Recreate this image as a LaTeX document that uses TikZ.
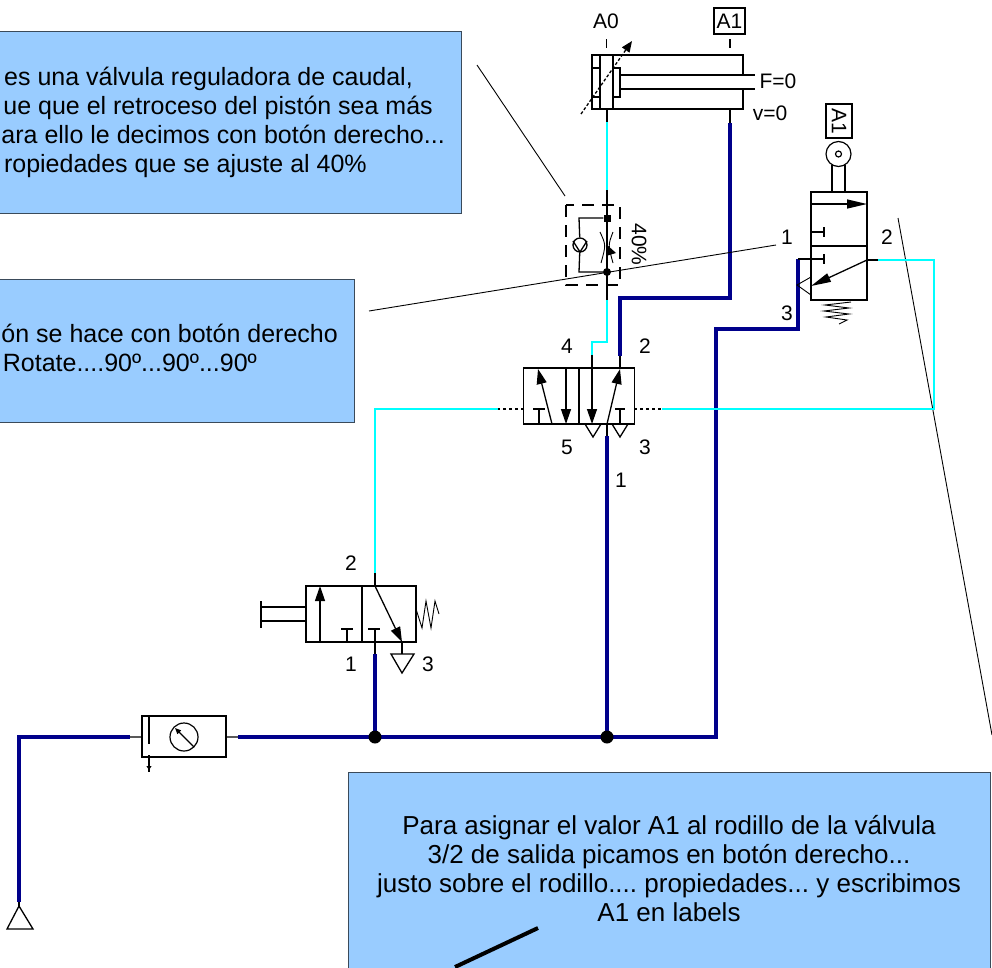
\documentclass[tikz,border=0pt]{standalone}
\usepackage{fontspec}
\setmainfont{Liberation Sans}
\usetikzlibrary{shapes.geometric, arrows.meta, positioning}
\definecolor{notafill}{HTML}{99CCFF}
\definecolor{notaline}{HTML}{3A4A5A}
\definecolor{alta}{HTML}{00008B}
\definecolor{piloto}{HTML}{00FFFF}
\tikzstyle{nota} = [rectangle, draw = notaline, fill = notafill, line width = 1pt, inner sep = 0pt]
\tikzstyle{notatext} = [inner sep = 0pt, anchor = east, text height = 18pt, text depth = 5pt, font = \fontsize{25}{29}\selectfont\frenchspacing]
\tikzstyle{etiqueta} = [inner sep = 0pt, font = \fontsize{21}{24}\selectfont]
\tikzstyle{cuerpo} = [rectangle, draw = black, fill = white, line width = 1.3pt, inner sep = 0pt]
\tikzstyle{simbolo} = [line width = 1.3pt, draw = black]
\tikzstyle{flecha} = [simbolo, -{Triangle[length = 15pt, width = 10pt]}]
\tikzstyle{linea} = [line width = 0.9pt, draw = black]
\tikzstyle{presion} = [line width = 4.5pt, draw = alta]
\tikzstyle{senal} = [line width = 1.2pt, draw = piloto]
\tikzstyle{union} = [circle, fill = black, inner sep = 0pt, minimum size = 13pt]

\begin{document}
\begin{tikzpicture}[x = 1pt, y = -1pt]
\useasboundingbox (0,0) rectangle (992,967);

\node (nota1) [nota, minimum width = 481, minimum height = 182] at (221,122) {};
\node (nota2) [nota, minimum width = 374, minimum height = 143] at (167,350.5) {};
\node (nota3) [nota, minimum width = 642, minimum height = 220] at (669,882) {};
\node (texto1a) [notatext] at (413,79) {es una válvula reguladora de caudal,};
\node (texto1b) [notatext] at (433,108) {ue que el retroceso del pistón sea más};
\node (texto1c) [notatext] at (445,137) {ara ello le decimos con botón derecho...};
\node (texto1d) [notatext] at (367,166) {ropiedades que se ajuste al 40\%};
\node (texto2a) [notatext] at (338,336) {ón se hace con botón derecho};
\node (texto2b) [notatext] at (257,365) {Rotate....90º...90º...90º};
\node (texto3) [inner sep = 0pt, align = center, font = \fontsize{26}{29}\selectfont\frenchspacing] at (669,869) {Para asignar el valor A1 al rodillo de la válvula\\3/2 de salida picamos en botón derecho...\\justo sobre el rodillo.... propiedades... y escribimos\\A1 en labels};

\coordinate (l1a) at (477,65);
\coordinate (l1b) at (565,196);
\coordinate (l2a) at (369,311);
\coordinate (l2b) at (776,245);
\coordinate (l3a) at (898,218);
\coordinate (l3b) at (992,735);
\coordinate (l4a) at (538,928);
\coordinate (l4b) at (455,967);
\draw[linea] (l1a) -- (l1b);
\draw[linea] (l3a) -- (l3b);
\draw[line width = 4pt] (l4a) -- (l4b);

% tuberias
\coordinate (escape) at (19,902);
\coordinate (codo) at (19,737);
\coordinate (unidadin) at (130,737);
\coordinate (unidadout) at (238,737);
\coordinate (j1) at (375,737);
\coordinate (j2) at (607,737);
\coordinate (esq1) at (716,737);
\coordinate (esq2) at (716,329);
\coordinate (esq3) at (798,329);
\coordinate (fin3) at (798,259);
\draw[presion] (escape) -- (codo) -- (unidadin);
\draw[presion] (unidadout) -- (esq1) -- (esq2) -- (esq3) -- (fin3);
\draw[presion] (j1) -- (375,654);
\draw[presion] (j2) -- (607,436);
\draw[presion] (730,123) -- (730,298) -- (620,298) -- (620,356);
\draw[senal] (607,122) -- (607,190);
\draw[senal] (607,300) -- (607,342) -- (592,342) -- (592,355);
\draw[senal] (498,409) -- (375,409) -- (375,573);
\draw[senal] (662,409) -- (934,409) -- (934,260) -- (878,260);
\node (u1) [union] at (j1) {};
\node (u2) [union] at (j2) {};

% cilindro
\node (cilindro) [cuerpo, minimum width = 151, minimum height = 54] at (667.5,82) {};
\draw[simbolo] (600,55) -- (600,109) (613,55) -- (613,109);
\draw[simbolo] (592,68) -- (600,68) (592,97) -- (600,97);
\draw[simbolo] (613,68) rectangle (620,97);
\draw[simbolo, white, line width = 3pt] (743,76) -- (743,88);
\draw[simbolo] (620,75) -- (755,75) (620,89) -- (755,89);
\draw[simbolo] (606.5,39) -- (606.5,48) (730,39) -- (730,48);
\draw[simbolo] (607,109) -- (607,122) (730,109) -- (730,123);
\draw[simbolo, densely dashed, -{Triangle[length = 11pt, width = 9pt]}] (581,114) -- (632,41);
\node (a0) [etiqueta] at (606,21) {A0};
\node (a1) [etiqueta, draw, line width = 1.2pt, minimum width = 31, minimum height = 26] at (729.5,21) {A1};
\node (f0) [etiqueta] at (778,81) {F=0};
\node (v0) [etiqueta] at (770,113) {v=0};

% reguladora
\draw[simbolo, dash pattern = on 12pt off 8pt] (566,205) rectangle (620,285);
\draw[simbolo] (607,190) -- (607,300);
\node (cuadro) [rectangle, fill = black, inner sep = 0pt, minimum size = 7pt] at (607,218) {};
\node (punto) [circle, fill = black, inner sep = 0pt, minimum size = 8pt] at (607,272) {};
\node (antirretorno) [circle, draw = black, fill = white, line width = 1.3pt, inner sep = 0pt, minimum size = 14pt] at (580,245) {};
\draw[simbolo] (cuadro) -- (579,218) -- (antirretorno);
\draw[simbolo] (antirretorno) -- (579,272) -- (punto);
\draw[simbolo] (573,241) -- (580,252) -- (587,241);
\draw[linea] (600,232) .. controls (606,245) .. (601,263) (613,232) .. controls (608,245) .. (613,263);
\fill (606,244) -- (616,253) -- (606,256) -- cycle;
\node (ajuste) [etiqueta, rotate = -90] at (639,244.5) {40\%};

\draw[linea] (l2a) -- (l2b);

% valvula 5/2
\node (valvula52) [cuerpo, minimum width = 111, minimum height = 56] at (579,396) {};
\draw[simbolo] (579,368) -- (579,424);
\draw[flecha] (552,424) -- (538,369);
\draw[flecha] (566,368) -- (566,424);
\draw[flecha] (592,355) -- (592,424);
\draw[flecha] (607,424) -- (620,369);
\draw[simbolo] (533,409) -- (545,409) (539,409) -- (539,424);
\draw[simbolo] (615,409) -- (625,409) (620,409) -- (620,424);
\draw[simbolo] (620,356) -- (620,368);
\draw[simbolo] (585,424) -- (593,437) -- (601,424);
\draw[simbolo] (612,424) -- (620,437) -- (628,424);
\draw[simbolo] (607,424) -- (607,436);
\draw[simbolo, dashed] (524,409) -- (498,409);
\draw[simbolo, dashed] (634,409) -- (662,409);
\node (v4) [etiqueta] at (567,346) {4};
\node (v2) [etiqueta] at (645,346) {2};
\node (v5) [etiqueta] at (567,447) {5};
\node (v3) [etiqueta] at (645,447) {3};
\node (v1) [etiqueta] at (621,480) {1};

% valvula 3/2 de pulsador
\node (pulsador) [cuerpo, minimum width = 110, minimum height = 56] at (361,614) {};
\draw[simbolo] (362,586) -- (362,642);
\draw[flecha] (320,642) -- (320,586);
\draw[flecha] (375,586) -- (402,642);
\draw[simbolo] (375,573) -- (375,586);
\draw[simbolo] (341,629) -- (353,629) (347,629) -- (347,642);
\draw[simbolo] (368,629) -- (380,629) (375,629) -- (375,654);
\draw[simbolo] (402,642) -- (402,654);
\draw[simbolo] (391,654) -- (414,654) -- (402,673) -- cycle;
\draw[simbolo] (306,607) -- (261,607) (306,621) -- (261,621) (261,601) -- (261,628);
\draw[linea] (416,609) -- (422,628) -- (426,601) -- (431,628) -- (435,601) -- (439,614);
\node (p2) [etiqueta] at (351,563) {2};
\node (p1) [etiqueta] at (351,664) {1};
\node (p3) [etiqueta] at (428,664) {3};

% unidad de mantenimiento
\node (unidad) [cuerpo, minimum width = 84, minimum height = 41] at (184,736.5) {};
\draw[simbolo] (unidadin) -- (unidad);
\draw[simbolo] (unidad) -- (unidadout);
\draw[simbolo] (149,716) -- (149,744) (149,755) -- (149,772);
\draw[simbolo, -{Triangle[length = 4pt, width = 5pt]}] (149,757) -- (149,770);
\node (manometro) [circle, draw = black, line width = 1.2pt, inner sep = 0pt, minimum size = 28pt] at (184,737) {};
\draw[simbolo, -{Triangle[length = 6pt, width = 5pt]}] (194,747) -- (175,728);
\draw[simbolo] (19,902) -- (19,908);
\draw[simbolo] (19,906) -- (7,929) -- (33,929) -- cycle;

% valvula de rodillo
\node (rodillo) [cuerpo, minimum width = 56, minimum height = 108] at (839,246) {};
\draw[simbolo] (811,246) -- (867,246);
\draw[simbolo, -{Triangle[length = 20pt, width = 9pt]}] (811,204) -- (867,204);
\draw[simbolo] (811,232) -- (824,232) (824,227) -- (824,237);
\draw[simbolo] (798,259) -- (824,259) (824,254) -- (824,264);
\draw[simbolo, -{Triangle[length = 20pt, width = 9pt]}] (867,260) -- (811,286);
\draw[simbolo] (867,260) -- (878,260);
\draw[linea] (811,277) -- (797,285) -- (811,295);
\draw[simbolo] (832,192) -- (832,165) (845,192) -- (845,165);
\node (rueda) [circle, draw = black, fill = white, line width = 1.2pt, inner sep = 0pt, minimum size = 25pt] at (838.5,154) {};
\node (eje) [circle, draw = black, line width = 1.2pt, inner sep = 0pt, minimum size = 6pt] at (838.5,154) {};
\node (a1b) [etiqueta, draw, line width = 1.2pt, rotate = -90, minimum width = 34, minimum height = 26] at (839,121) {A1};
\draw[linea] (851,302) -- (825,305) -- (849,308) -- (824,311) -- (849,314) -- (826,317) -- (847,320) -- (839,324);
\node (r1) [etiqueta] at (787,237) {1};
\node (r2) [etiqueta] at (887,237) {2};
\node (r3) [etiqueta] at (787,313) {3};
\end{tikzpicture}
\end{document}
